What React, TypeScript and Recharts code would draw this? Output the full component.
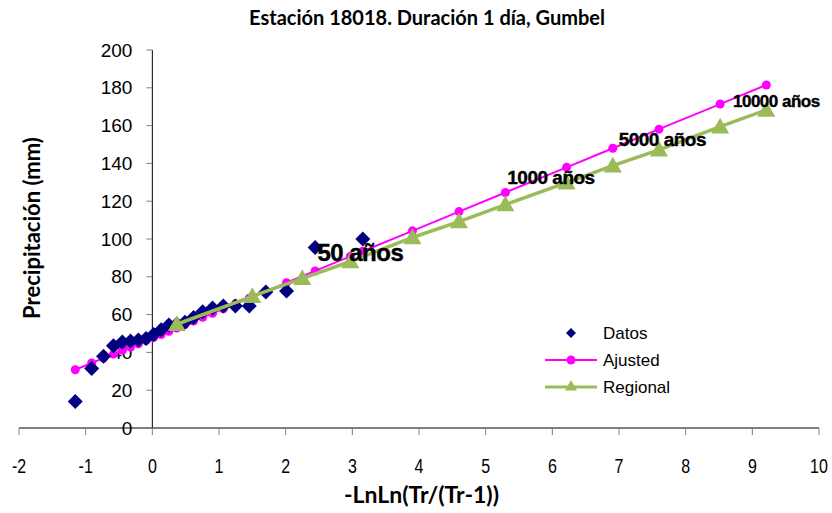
import React from "react";
import { ScatterChart, Scatter, XAxis, YAxis, ReferenceLine, ReferenceDot } from "recharts";

const W = 832;
const H = 513;

// Datos observados (posición de plotting Gumbel)
const datosX = [-1.156, -0.91, -0.732, -0.583, -0.45, -0.327, -0.209, -0.094, 0.019, 0.133, 0.248, 0.367, 0.489, 0.618, 0.755, 0.903, 1.065, 1.246, 1.454, 1.702, 2.013, 2.442, 3.157];
const datosY = [14, 31.5, 38, 43.5, 45.5, 46, 46.5, 47.3, 49.5, 52, 54.5, 55, 56, 58.5, 61.5, 63.5, 64.5, 64.5, 64.5, 72, 72.5, 95.5, 100];

// Ajuste Gumbel
const ajustedX = [-1.156, -0.91, -0.732, -0.583, -0.45, -0.327, -0.209, -0.094, 0.019, 0.133, 0.248, 0.367, 0.489, 0.618, 0.755, 0.903, 1.065, 1.246, 1.454, 1.702, 2.013, 2.442, 2.97, 3.157, 3.902, 4.6, 5.296, 6.214, 6.907, 7.6, 8.517, 9.21];
const ajustedY = [30.8, 34.4, 37, 39.1, 41.1, 42.8, 44.6, 46.2, 47.9, 49.5, 51.2, 52.9, 54.7, 56.6, 58.6, 60.7, 63.1, 65.7, 68.7, 72.3, 76.9, 83.1, 90.8, 93.5, 104.3, 114.5, 124.6, 137.9, 148, 158.1, 171.4, 181.5];

// Regional
const regionalX = [0.367, 1.5, 2.25, 2.97, 3.902, 4.6, 5.296, 6.214, 6.907, 7.6, 8.517, 9.21];
const regionalY = [54.9, 69.7, 79.2, 88.1, 100.8, 109.2, 118.2, 129.8, 138.8, 147.2, 159.4, 168.3];

const xTicks = [-2, -1, 0, 1, 2, 3, 4, 5, 6, 7, 8, 9, 10];
const yTicks = [0, 20, 40, 60, 80, 100, 120, 140, 160, 180, 200];

const periodLabels = ["50 años", "1000 años", "5000 años", "10000 años"];
const periodLabelX = [3.12, 5.98, 7.65, 9.36];
const periodLabelY = [93.1, 132.3, 152.9, 173];
const periodLabelSize = [24, 19, 19, 17];

const toPts = (xs: number[], ys: number[]) => xs.map((x, i) => ({ x, y: ys[i] }));
const datos = toPts(datosX, datosY);
const ajusted = toPts(ajustedX, ajustedY);
const regional = toPts(regionalX, regionalY);

const ARIAL = "'Liberation Sans', Arial, sans-serif";
const CALIBRI = "Lato, 'Open Sans', sans-serif";

const NAVY = "#000080";
const MAGENTA = "#FF00FF";
const GREEN = "#9BBB59";

const Diamond = ({ cx, cy, s = 7.5 }: any) => (
    <polygon points={`${cx},${cy - s} ${cx + s},${cy} ${cx},${cy + s} ${cx - s},${cy}`} fill={NAVY} />
);
const Circle = ({ cx, cy, r = 4.5 }: any) => <circle cx={cx} cy={cy} r={r} fill={MAGENTA} />;
const Triangle = ({ cx, cy, s = 9 }: any) => (
    <polygon points={`${cx},${cy - s} ${cx + s},${cy + s * 0.75} ${cx - s},${cy + s * 0.75}`} fill={GREEN} />
);

// etiquetas del eje X en letra estrecha
const NarrowTick = ({ x, y, payload }: any) => (
    <text
        transform={`translate(${x},${y + 29}) scale(0.8,1)`}
        textAnchor="middle"
        dominantBaseline="central"
        fontFamily={ARIAL}
        fontSize={20}
        fill="#000"
    >
        {payload.value}
    </text>
);

const Legend = () => (
    <svg width={W} height={H} style={{ position: "absolute", left: 0, top: 0, pointerEvents: "none" }}>
        <Diamond cx={571} cy={333} s={5} />
        <line x1={545} y1={360} x2={597} y2={360} stroke={MAGENTA} strokeWidth={2} />
        <Circle cx={571} cy={360} r={4.5} />
        <line x1={545} y1={387} x2={597} y2={387} stroke={GREEN} strokeWidth={3} />
        <Triangle cx={571} cy={386} s={6} />
        {["Datos", "Ajusted", "Regional"].map((t, i) => (
            <text key={t} x={603} y={333 + i * 27} dominantBaseline="central" fontFamily={ARIAL} fontSize={17} fill="#000">
                {t}
            </text>
        ))}
    </svg>
);

export default function App() {
    return (
        <div style={{ position: "absolute", left: 0, top: 0, width: W, height: H, background: "#fff" }}>
            <ScatterChart width={W} height={H} margin={{ top: 50, right: 13, left: 19, bottom: 0 }}>
                <XAxis
                    type="number"
                    dataKey="x"
                    domain={[-2, 10]}
                    ticks={xTicks}
                    allowDataOverflow
                    height={85}
                    axisLine={{ stroke: "#000", strokeWidth: 1 }}
                    tickLine={{ stroke: "#808080" }}
                    tickSize={7}
                    tick={<NarrowTick />}
                />
                <YAxis type="number" dataKey="y" domain={[0, 200]} ticks={yTicks} hide />
                <ReferenceLine x={0} stroke="#000" strokeWidth={1} />
                {yTicks.map((v) => (
                    <ReferenceDot
                        key={v}
                        x={0}
                        y={v}
                        r={0}
                        ifOverflow="visible"
                        shape={(p: any) => (
                            <g>
                                <line x1={p.cx - 6} y1={p.cy} x2={p.cx} y2={p.cy} stroke="#808080" />
                                <text x={p.cx - 20} y={p.cy} textAnchor="end" dominantBaseline="central" fontFamily={ARIAL} fontSize={19} fill="#000">
                                    {v}
                                </text>
                            </g>
                        )}
                    />
                ))}
                <Scatter
                    name="Ajusted"
                    data={ajusted}
                    line={{ stroke: MAGENTA, strokeWidth: 2 }}
                    lineType="joint"
                    shape={(p: any) => <Circle cx={p.cx} cy={p.cy} />}
                    isAnimationActive={false}
                />
                <Scatter name="Datos" data={datos} shape={(p: any) => <Diamond cx={p.cx} cy={p.cy} />} isAnimationActive={false} />
                <Scatter
                    name="Regional"
                    data={regional}
                    line={{ stroke: GREEN, strokeWidth: 3.5 }}
                    lineType="joint"
                    shape={(p: any) => <Triangle cx={p.cx} cy={p.cy} />}
                    isAnimationActive={false}
                />
                {periodLabels.map((t, i) => (
                    <ReferenceDot
                        key={t}
                        x={periodLabelX[i]}
                        y={periodLabelY[i]}
                        r={0}
                        ifOverflow="visible"
                        shape={(p: any) => (
                            <text
                                x={p.cx}
                                y={p.cy}
                                textAnchor="middle"
                                dominantBaseline="central"
                                fontFamily={ARIAL}
                                fontWeight="bold"
                                fontSize={periodLabelSize[i]}
                                fill="#000"
                                stroke="#000"
                                strokeWidth={0.4}
                                letterSpacing={-0.5}
                            >
                                {t}
                            </text>
                        )}
                    />
                ))}
            </ScatterChart>
            <Legend />
            <div style={{ position: "absolute", left: 0, top: 5, width: 854, textAlign: "center", fontFamily: CALIBRI, fontWeight: "bold", fontSize: 20, lineHeight: "24px" }}>
                Estación 18018. Duración 1 día, Gumbel
            </div>
            <div style={{ position: "absolute", left: 0, top: 481, width: 843, textAlign: "center", fontFamily: CALIBRI, fontWeight: "bold", fontSize: 23, lineHeight: "26px" }}>
                -LnLn(Tr/(Tr-1))
            </div>
            <div
                style={{
                    position: "absolute",
                    left: 32,
                    top: 228,
                    transform: "translate(-50%, -50%) rotate(-90deg)",
                    whiteSpace: "nowrap",
                    fontFamily: CALIBRI,
                    fontWeight: "bold",
                    fontSize: 22,
                    lineHeight: "26px",
                }}
            >
                Precipitación (mm)
            </div>
        </div>
    );
}
